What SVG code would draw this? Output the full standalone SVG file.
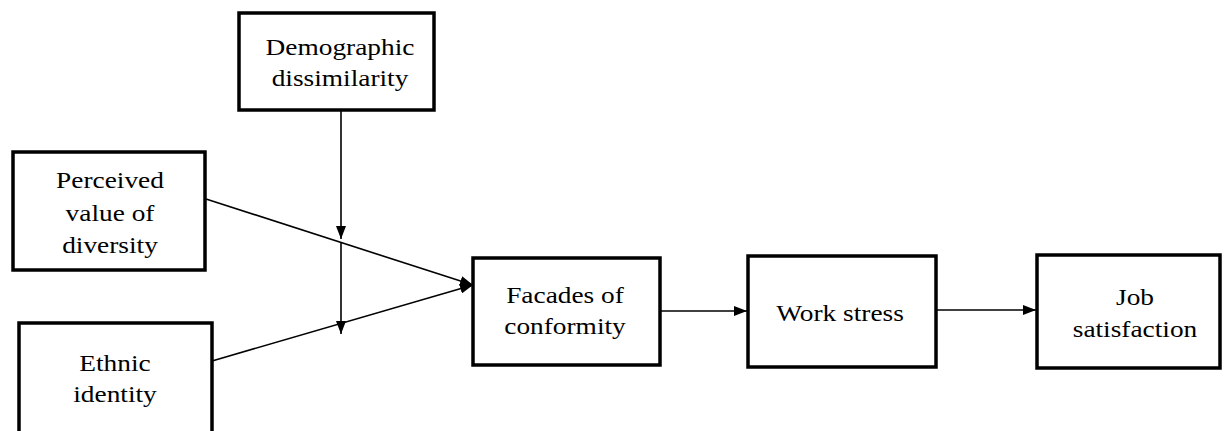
<svg xmlns="http://www.w3.org/2000/svg" width="1224" height="431" viewBox="0 0 1224 431">
<style>
.box{fill:#fff;stroke:#000;stroke-width:3.5}
.lbl{font-family:"Liberation Serif","Times New Roman",serif;font-size:24px;fill:#000;text-anchor:middle}
.con{stroke:#000;stroke-width:1.6;fill:none;marker-end:url(#ah)}
</style>
<defs>
<marker id="ah" markerUnits="userSpaceOnUse" markerWidth="13" markerHeight="10" refX="13" refY="5" orient="auto">
<path d="M0,0 L13,5 L0,10 z" fill="#000"/>
</marker>
</defs>
<rect width="1224" height="431" fill="#fff"/>
<g id="connectors">
<line class="con" x1="341" y1="110" x2="341" y2="239"/>
<line class="con" x1="341" y1="243" x2="341" y2="334"/>
<line class="con" x1="206" y1="199" x2="473" y2="285"/>
<line class="con" x1="212" y1="361" x2="473" y2="285"/>
<line class="con" x1="660" y1="311" x2="747" y2="311"/>
<line class="con" x1="936" y1="310" x2="1036" y2="310"/>
</g>
<g id="demographic">
<rect class="box" x="239" y="13" width="195" height="97"/>
<text class="lbl" transform="translate(340,55) scale(1.14,1)">Demographic</text>
<text class="lbl" transform="translate(340,86) scale(1.14,1)">dissimilarity</text>
</g>
<g id="perceived">
<rect class="box" x="13" y="152" width="192" height="118"/>
<text class="lbl" transform="translate(110,188) scale(1.14,1)">Perceived</text>
<text class="lbl" transform="translate(110,221) scale(1.14,1)">value of</text>
<text class="lbl" transform="translate(110,253) scale(1.14,1)">diversity</text>
</g>
<g id="ethnic">
<rect class="box" x="19" y="323" width="193" height="130"/>
<text class="lbl" transform="translate(115,371) scale(1.14,1)">Ethnic</text>
<text class="lbl" transform="translate(115,402) scale(1.14,1)">identity</text>
</g>
<g id="facades">
<rect class="box" x="473" y="258" width="187" height="107"/>
<text class="lbl" transform="translate(565,303) scale(1.14,1)">Facades of</text>
<text class="lbl" transform="translate(565,334) scale(1.14,1)">conformity</text>
</g>
<g id="workstress">
<rect class="box" x="748" y="256" width="188" height="111"/>
<text class="lbl" transform="translate(840,321) scale(1.14,1)">Work stress</text>
</g>
<g id="jobsat">
<rect class="box" x="1037" y="255" width="183" height="113"/>
<text class="lbl" transform="translate(1135,305) scale(1.14,1)">Job</text>
<text class="lbl" transform="translate(1135,337) scale(1.14,1)">satisfaction</text>
</g>
</svg>
